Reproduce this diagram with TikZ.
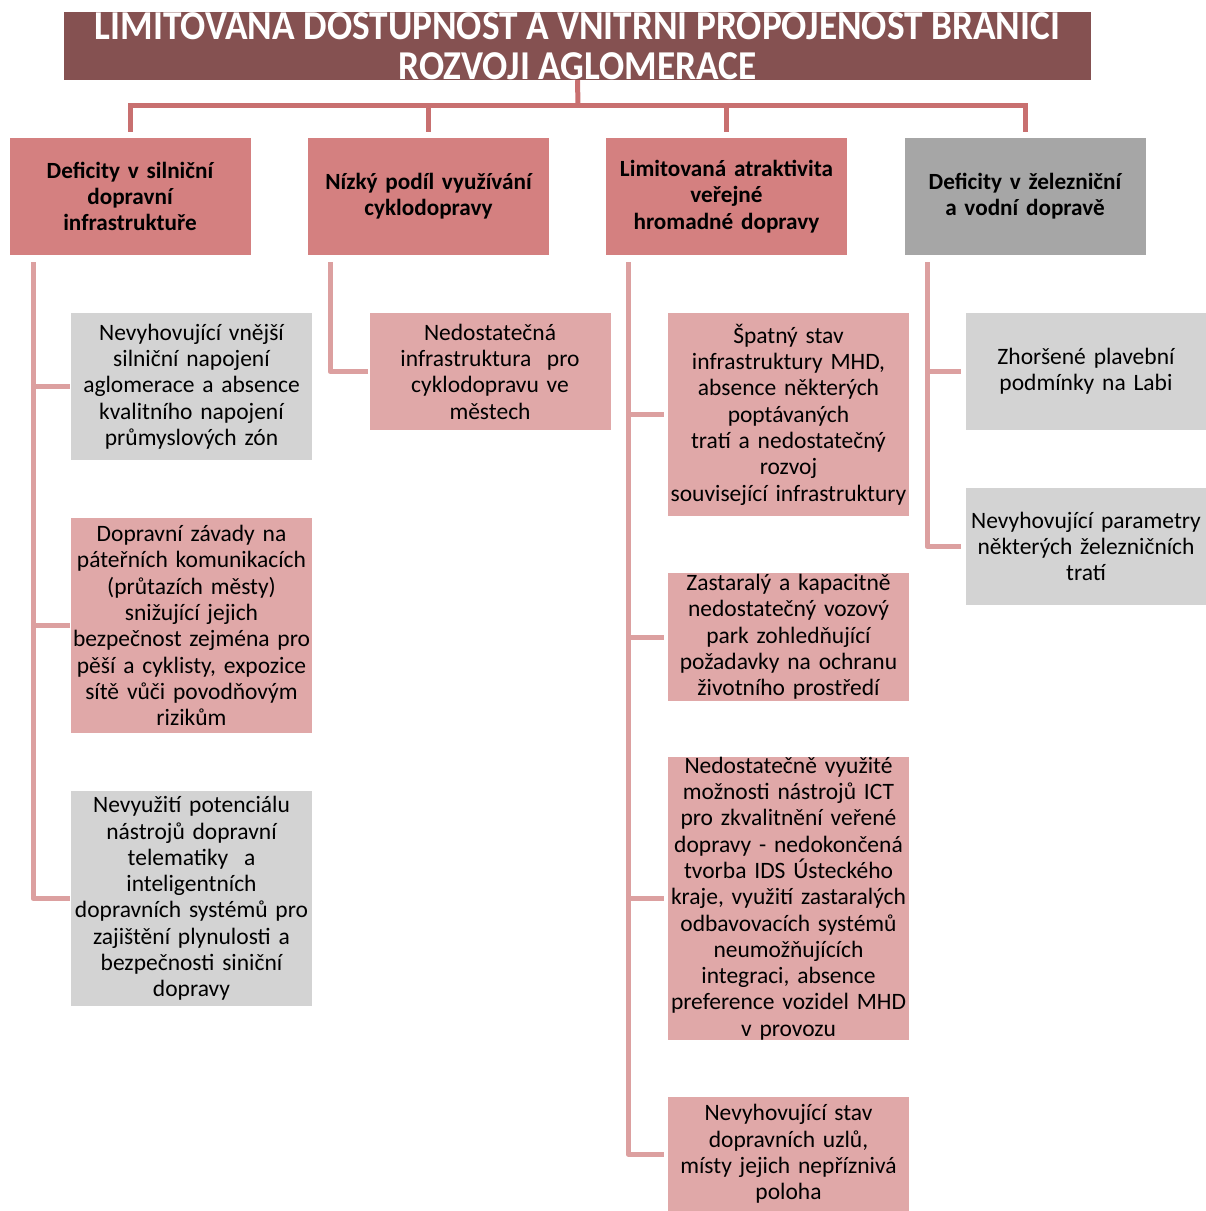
\documentclass[tikz,border=0pt]{standalone}
\usepackage{fontspec}
\setmainfont{Carlito}
\newfontfamily\titlefont[FakeStretch=0.91]{Carlito}
\definecolor{titlec}{RGB}{133,81,81}
\definecolor{pinkA}{RGB}{212,128,128}
\definecolor{pinkB}{RGB}{224,168,168}
\definecolor{grayA}{RGB}{166,166,166}
\definecolor{grayB}{RGB}{211,211,211}
\definecolor{connA}{RGB}{200,112,112}
\definecolor{connB}{RGB}{220,160,160}
\tikzset{
  titlebox/.style={fill=titlec, text=white, minimum width=1027pt, minimum height=68pt, inner sep=0pt, align=center, font=\titlefont\bfseries\fontsize{41}{40}\selectfont},
  lvlone/.style={minimum width=241pt, minimum height=117pt, inner sep=0pt, text width=241pt, align=center, font=\bfseries\fontsize{23.2}{26.3}\selectfont},
  lvltwo/.style={minimum width=241pt, inner sep=0pt, text width=241pt, align=center, font=\fontsize{23.5}{26.3}\selectfont},
  conna/.style={draw=connA, line width=5pt},
  connb/.style={draw=connB, line width=5pt, line join=round},
}
\begin{document}
\begin{tikzpicture}[x=1pt,y=-1pt]
\useasboundingbox (0,0) rectangle (1206,1211);
% title
\node[titlebox] (t) at (577.5,46) {\raisebox{4pt}{\parbox{1027pt}{\centering LIMITOVANA DOSTUPNOST A VNITRNI PROPOJENOST BRANICI\\ROZVOJI AGLOMERACE}}};
% level 1
\node[lvlone, fill=pinkA] (a1) at (130,196.5) {Deficity v silniční\\dopravní\\infrastruktuře};
\node[lvlone, fill=pinkA] (a2) at (428.5,196.5) {Nízký podíl využívání\\cyklodopravy};
\node[lvlone, fill=pinkA] (a3) at (726.5,196.5) {Limitovaná atraktivita\\veřejné\\hromadné dopravy};
\node[lvlone, fill=grayA] (a4) at (1025,196.5) {Deficity v železniční\\a vodní dopravě};
% top connectors
\coordinate (j) at (578,105);
\draw[conna] (t.south) -- (j);
\draw[conna] ([yshift=6pt]a1.north) -- (a1.north|-j) -- (a4.north|-j) -- ([yshift=6pt]a4.north);
\draw[conna] ([yshift=6pt]a2.north) -- (a2.north|-j);
\draw[conna] ([yshift=6pt]a3.north) -- (a3.north|-j);
% level 2 column 1
\node[lvltwo, fill=grayB, minimum height=147pt] (b11) at (191.5,386.5) {Nevyhovující vnější\\silniční napojení\\aglomerace a absence\\kvalitního napojení\\průmyslových zón};
\node[lvltwo, fill=pinkB, minimum height=215pt] (b12) at (191.5,625.5) {Dopravní závady na\\páteřních komunikacích\\(průtazích městy)\\snižující jejich\\bezpečnost zejména pro\\pěší a cyklisty, expozice\\sítě vůči povodňovým\\rizikům};
\node[lvltwo, fill=grayB, minimum height=215pt] (b13) at (191.5,898.5) {Nevyužití potenciálu\\nástrojů dopravní\\telematiky\ \ a\\inteligentních\\dopravních systémů pro\\zajištění plynulosti a\\bezpečnosti siniční\\dopravy};
% column 2
\node[lvltwo, fill=pinkB, minimum height=117pt] (b21) at (490,371.5) {Nedostatečná\\infrastruktura\ \ pro\\cyklodopravu ve\\městech};
% column 3
\node[lvltwo, fill=pinkB, minimum height=203pt] (b31) at (788.5,414.5) {Špatný stav\\infrastruktury MHD,\\absence některých\\poptávaných\\tratí a nedostatečný\\rozvoj\\související infrastruktury};
\node[lvltwo, fill=pinkB, minimum height=128pt] (b32) at (788.5,637) {Zastaralý a kapacitně\\nedostatečný vozový\\park zohledňující\\požadavky na ochranu\\životního prostředí};
\node[lvltwo, fill=pinkB, minimum height=279pt] (b33) at (788.5,898.5) {Nedostatečně využité\\možnosti nástrojů ICT\\pro zkvalitnění veřené\\dopravy - nedokončená\\tvorba IDS Ústeckého\\kraje, využití zastaralých\\odbavovacích systémů\\neumožňujících\\integraci, absence\\preference vozidel MHD\\v provozu};
\node[lvltwo, fill=pinkB, minimum height=114pt] (b34) at (788.5,1154) {Nevyhovující stav\\dopravních uzlů,\\místy jejich nepříznivá\\poloha};
% column 4
\node[lvltwo, fill=grayB, minimum height=117pt] (b41) at (1086,371.5) {Zhoršené plavební\\podmínky na Labi};
\node[lvltwo, fill=grayB, minimum height=117pt] (b42) at (1086,546.5) {Nevyhovující parametry\\některých železničních\\tratí};
% level 2 connectors
\coordinate (c1) at (33,262);
\coordinate (c2) at (330,262);
\coordinate (c3) at (628,262);
\coordinate (c4) at (927,262);
\draw[connb] (c1) |- ([xshift=-1pt]b13.west);
\draw[connb] (b11.west-|c1) -- ([xshift=-1pt]b11.west);
\draw[connb] (b12.west-|c1) -- ([xshift=-1pt]b12.west);
\draw[connb] (c2) |- ([xshift=-1pt]b21.west);
\draw[connb] (c3) |- ([xshift=-4pt]b34.west);
\draw[connb] (b31.west-|c3) -- ([xshift=-4pt]b31.west);
\draw[connb] (b32.west-|c3) -- ([xshift=-4pt]b32.west);
\draw[connb] (b33.west-|c3) -- ([xshift=-4pt]b33.west);
\draw[connb] (c4) |- ([xshift=-4pt]b42.west);
\draw[connb] (b41.west-|c4) -- ([xshift=-4pt]b41.west);
\end{tikzpicture}
\end{document}
